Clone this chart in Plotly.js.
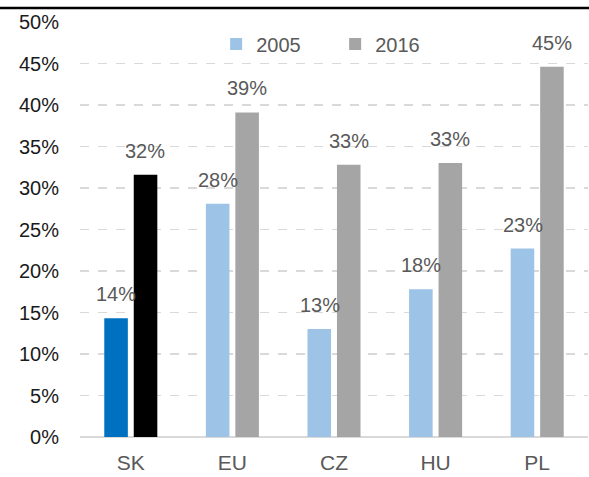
<!DOCTYPE html>
<html>
<head>
<meta charset="utf-8">
<script src="https://cdn.plot.ly/plotly-3.0.1.min.js"></script>
<style>html,body{margin:0;padding:0;background:#fff;}#chart{width:589px;height:477px;}</style>
</head>
<body>
<div id="chart"></div>
<script>
const categories = ["SK", "EU", "CZ", "HU", "PL"];
const values2005 = [14.3, 28.1, 13.0, 17.8, 22.7];
const values2016 = [31.6, 39.1, 32.8, 33.0, 44.6];
const colors2005 = ["#0070C0", "#9DC3E6", "#9DC3E6", "#9DC3E6", "#9DC3E6"];
const colors2016 = ["#000000", "#A5A5A5", "#A5A5A5", "#A5A5A5", "#A5A5A5"];
const legendColors = {"2005": "#9DC3E6", "2016": "#A5A5A5"};
const yTicks = [0, 5, 10, 15, 20, 25, 30, 35, 40, 45, 50];

const FONT = "'Liberation Sans', Arial, sans-serif";

const traces = [
  {type: "bar", name: "2005", x: categories, y: values2005, offsetgroup: "g2005",
   marker: {color: colors2005}, hoverinfo: "skip", showlegend: false},
  {type: "bar", name: "2016", x: categories, y: values2016, offsetgroup: "g2016",
   marker: {color: colors2016}, hoverinfo: "skip", showlegend: false},
  {type: "bar", name: "2005", x: [categories[0]], y: [null], offsetgroup: "g2005",
   marker: {color: legendColors["2005"]}, hoverinfo: "skip", showlegend: true},
  {type: "bar", name: "2016", x: [categories[0]], y: [null], offsetgroup: "g2016",
   marker: {color: legendColors["2016"]}, hoverinfo: "skip", showlegend: true}
];

const annotations = [];
[[values2005, -14.5], [values2016, 14.5]].forEach(([vals, shift]) => {
  vals.forEach((v, i) => {
    annotations.push({
      x: categories[i], y: v, xref: "x", yref: "y",
      text: Math.round(v) + "%", showarrow: false,
      xanchor: "center", yanchor: "bottom", xshift: shift, yshift: 11,
      font: {family: FONT, size: 20, color: "#595959"}
    });
  });
});

const layout = {
  width: 589, height: 477,
  margin: {l: 80, r: 1, t: 22, b: 40},
  paper_bgcolor: "#fff", plot_bgcolor: "#fff",
  barmode: "group", bargap: 0.42, bargroupgap: 0.2,
  showlegend: true,
  legend: {orientation: "h", x: 0.268, xanchor: "left", y: 0.947, yanchor: "middle",
           entrywidth: 74, entrywidthmode: "pixels",
           font: {family: FONT, size: 20, color: "#595959"}, bgcolor: "rgba(0,0,0,0)",
           traceorder: "normal"},
  xaxis: {type: "category", showgrid: false, zeroline: false, showline: false,
          ticks: "", ticklabelstandoff: 11,
          tickfont: {family: FONT, size: 21, color: "#595959"}},
  yaxis: {range: [0, 50], tickvals: yTicks, ticktext: yTicks.map(t => t + "%"),
          showgrid: true, gridcolor: "#D9D9D9", gridwidth: 1.5, griddash: "dash",
          zeroline: true, zerolinecolor: "#D9D9D9", zerolinewidth: 1.5,
          ticks: "", ticklabelstandoff: 20,
          tickfont: {family: FONT, size: 20, color: "#1a1a1a"}},
  annotations: annotations,
  shapes: [{type: "line", xref: "paper", yref: "paper", x0: -80/508, x1: 1.01,
            y0: 1.0338, y1: 1.0338, line: {color: "#000", width: 2.5}}]
};

Plotly.newPlot("chart", traces, layout, {displayModeBar: false, staticPlot: true});
</script>
</body>
</html>
